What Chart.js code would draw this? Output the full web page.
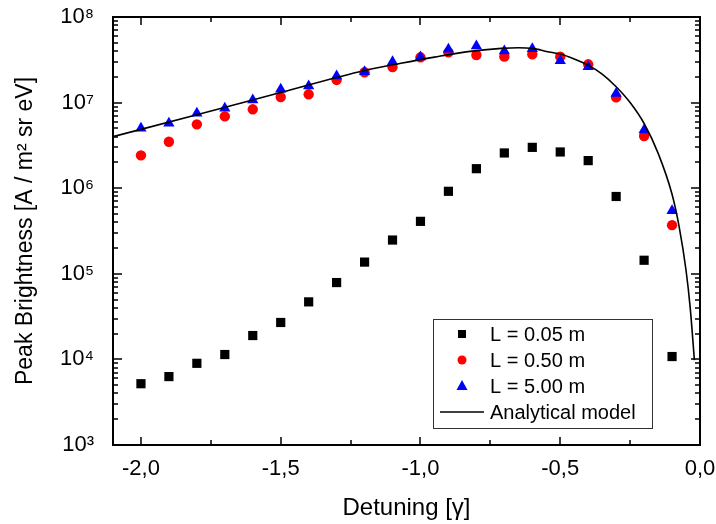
<!DOCTYPE html>
<html>
<head>
<meta charset="utf-8">
<script src="https://cdn.jsdelivr.net/npm/chart.js@4.4.1/dist/chart.umd.min.js"></script>
<style>
  html, body { margin: 0; padding: 0; background: #fff; }
  #wrap { width: 716px; height: 524px; }
</style>
</head>
<body>
<div id="wrap"><canvas id="chart"></canvas></div>
<script>
// detuning (in units of gamma) of the simulated points
const detuning = [-2.0, -1.9, -1.8, -1.7, -1.6, -1.5, -1.4, -1.3, -1.2, -1.1,
                  -1.0, -0.9, -0.8, -0.7, -0.6, -0.5, -0.4, -0.3, -0.2, -0.1];
// peak brightness for the three lengths
const bright005 = [5.2e3, 6.3e3, 9.0e3, 1.14e4, 1.9e4, 2.7e4, 4.7e4, 7.9e4, 1.37e5, 2.48e5,
                   4.1e5, 9.2e5, 1.69e6, 2.58e6, 3.0e6, 2.65e6, 2.1e6, 8.0e5, 1.44e5, 1.08e4];
const bright050 = [2.42e6, 3.49e6, 5.57e6, 6.9e6, 8.35e6, 1.16e7, 1.25e7, 1.84e7, 2.26e7, 2.6e7,
                   3.38e7, 3.86e7, 3.6e7, 3.44e7, 3.66e7, 3.44e7, 2.8e7, 1.15e7, 4.07e6, 3.7e5];
const bright500 = [5.0e6, 5.73e6, 7.5e6, 8.58e6, 1.07e7, 1.43e7, 1.56e7, 2.05e7, 2.3e7, 3.0e7,
                   3.4e7, 4.19e7, 4.58e7, 4.0e7, 4.26e7, 3.09e7, 2.63e7, 1.28e7, 4.79e6, 5.46e5];
// analytical model curve
const modelX = [-2.1, -1.8, -1.5, -1.2, -1.07, -0.95, -0.83, -0.71, -0.65, -0.6, -0.54, -0.5,
                -0.45, -0.4, -0.35, -0.3, -0.25, -0.2, -0.15, -0.1, -0.075, -0.05, -0.035, -0.02];
const modelY = [4.0e6, 7.2e6, 1.31e7, 2.37e7, 2.88e7, 3.4e7, 3.94e7, 4.3e7, 4.38e7, 4.3e7, 3.9e7, 3.7e7,
                3.24e7, 2.74e7, 2.15e7, 1.53e7, 1.0e7, 5.7e6, 2.57e6, 8.5e5, 3.6e5, 1.1e5, 4.0e4, 9.8e3];
// tick labels
const xTicks = [-2.0, -1.5, -1.0, -0.5, 0.0];
const yTicks = [1e3, 1e4, 1e5, 1e6, 1e7, 1e8];

const sup = { '3': '³', '4': '⁴', '5': '⁵', '6': '⁶', '7': '⁷', '8': '⁸' };
const pts = ys => detuning.map((x, i) => ({ x: x, y: ys[i] }));

Chart.defaults.font.family = '"Liberation Sans", Arial, sans-serif';
Chart.defaults.color = '#000';

// box, inward ticks on all four sides
const frame = {
  id: 'frame',
  afterDatasetsDraw(chart) {
    const { ctx, chartArea: a, scales: { x, y } } = chart;
    ctx.save();
    ctx.strokeStyle = '#000';
    ctx.lineWidth = 1.5;
    ctx.beginPath();
    for (let v = xTicks[0]; v <= 0.001; v += 0.25) {
      const px = Math.round(x.getPixelForValue(v));
      const len = Math.abs(v * 2 - Math.round(v * 2)) < 1e-6 ? 8 : 5;
      ctx.moveTo(px, a.bottom); ctx.lineTo(px, a.bottom - len);
      ctx.moveTo(px, a.top); ctx.lineTo(px, a.top + len);
    }
    for (let e = 3; e < 8; e++) {
      for (let m = 1; m <= 9; m++) {
        const py = Math.round(y.getPixelForValue(m * Math.pow(10, e)));
        const len = m === 1 ? 9 : 5;
        ctx.moveTo(a.left, py); ctx.lineTo(a.left + len, py);
        ctx.moveTo(a.right, py); ctx.lineTo(a.right - len, py);
      }
    }
    ctx.stroke();
    ctx.lineWidth = 2;
    ctx.strokeRect(a.left, a.top, a.width, a.height);
    ctx.restore();
  }
};

// legend inside the plot, lower right
const legendBox = {
  id: 'legendBox',
  afterDraw(chart) {
    const { ctx, chartArea: a } = chart;
    const w = 219, h = 109;
    const left = a.right - 48 - w, top = a.bottom - 17 - h;
    ctx.save();
    ctx.fillStyle = '#fff';
    ctx.fillRect(left, top, w, h);
    ctx.strokeStyle = '#333';
    ctx.lineWidth = 1;
    ctx.strokeRect(left + 0.5, top + 0.5, w, h);
    ctx.font = '20px "Liberation Sans", Arial, sans-serif';
    ctx.textBaseline = 'middle';
    chart.data.datasets.forEach((ds, i) => {
      const cy = top + 15 + i * 26;
      const cx = left + 29;
      ctx.fillStyle = ds.backgroundColor;
      ctx.beginPath();
      if (ds.showLine) {
        ctx.strokeStyle = ds.borderColor;
        ctx.lineWidth = 1.5;
        ctx.moveTo(left + 7, cy); ctx.lineTo(left + 51, cy);
        ctx.stroke();
      } else if (ds.pointStyle === 'rect') {
        ctx.fillRect(cx - 4, cy - 4, 8, 8);
      } else if (ds.pointStyle === 'circle') {
        ctx.arc(cx, cy, 4.5, 0, Math.PI * 2);
        ctx.fill();
      } else {
        ctx.moveTo(cx, cy - 6); ctx.lineTo(cx + 5.5, cy + 4); ctx.lineTo(cx - 5.5, cy + 4);
        ctx.closePath();
        ctx.fill();
      }
      ctx.fillStyle = '#000';
      ctx.fillText(ds.label, left + 57, cy + 1);
    });
    ctx.restore();
  }
};

new Chart(document.getElementById('chart'), {
  type: 'scatter',
  data: {
    datasets: [
      { label: 'L = 0.05 m', data: pts(bright005), pointStyle: 'rect', pointRadius: 6.5,
        backgroundColor: '#000', borderWidth: 0, order: 3 },
      { label: 'L = 0.50 m', data: pts(bright050), pointStyle: 'circle', pointRadius: 5.2,
        backgroundColor: '#ff0000', borderWidth: 0, order: 2 },
      { label: 'L = 5.00 m', data: pts(bright500), pointStyle: 'triangle', pointRadius: 6.5,
        backgroundColor: '#0000ff', borderWidth: 0, order: 1 },
      { label: 'Analytical model', data: modelX.map((x, i) => ({ x: x, y: modelY[i] })),
        showLine: true, pointRadius: 0, borderColor: '#000', backgroundColor: '#000',
        borderWidth: 1.6, cubicInterpolationMode: 'monotone', order: 0 }
    ]
  },
  options: {
    responsive: true,
    maintainAspectRatio: false,
    animation: false,
    layout: { padding: { top: 17, right: 16, left: 0, bottom: 0 } },
    plugins: { legend: { display: false }, tooltip: { enabled: false } },
    scales: {
      x: {
        type: 'linear', min: -2.1, max: 0,
        grid: { display: false }, border: { display: false },
        afterBuildTicks: s => { s.ticks = xTicks.map(v => ({ value: v })); },
        afterFit: s => { s.height = 79; s.paddingLeft = 0; s.paddingRight = 0; },
        ticks: {
          padding: 3, font: { size: 22 }, maxRotation: 0,
          callback: v => Math.abs(v).toFixed(1) === '0.0' ? '0,0' : v.toFixed(1).replace('.', ',')
        },
        title: { display: true, text: 'Detuning [γ]', font: { size: 24 }, padding: { top: 0, bottom: 1 } }
      },
      y: {
        type: 'logarithmic', min: 1e3, max: 1e8,
        grid: { display: false }, border: { display: false },
        afterBuildTicks: s => { s.ticks = yTicks.map(v => ({ value: v })); },
        afterFit: s => { s.width = 113; s.paddingTop = 0; s.paddingBottom = 0; },
        ticks: {
          padding: 11, font: { size: 22 },
          callback: v => '10' + sup[String(Math.round(Math.log10(v)))]
        },
        title: { display: true, text: 'Peak Brightness [A / m² sr eV]', font: { size: 23 }, padding: { top: 12, bottom: 0 } }
      }
    }
  },
  plugins: [frame, legendBox]
});
</script>
</body>
</html>
